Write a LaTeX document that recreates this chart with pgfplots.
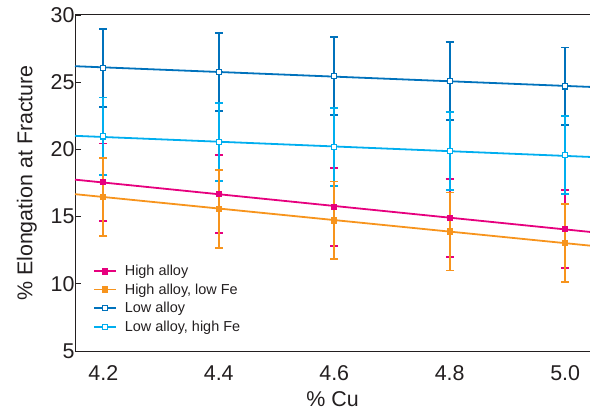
\documentclass[border=0pt]{standalone}
\usepackage{fontspec}
\setmainfont{Liberation Sans}
\usepackage{pgfplots}
\usepackage{pgfplotstable}
\pgfplotsset{compat=1.18}

\definecolor{hialloy}{RGB}{230,0,126}
\definecolor{hilowfe}{RGB}{247,148,29}
\definecolor{loalloy}{RGB}{0,114,188}
\definecolor{lohife}{RGB}{0,174,239}
\definecolor{txt}{RGB}{35,31,32}

% mean values, error = half the bar
\pgfplotstableread{
x   y     e
4.2 17.55 2.9
4.4 16.68 2.9
4.6 15.71 2.9
4.8 14.90 2.9
5.0 14.10 2.9
}\hialloytab
\pgfplotstableread{
x   y     e
4.2 16.46 2.9
4.4 15.59 2.9
4.6 14.72 2.9
4.8 13.90 2.9
5.0 13.04 2.9
}\hilowfetab
\pgfplotstableread{
x   y     e
4.2 26.08 2.9
4.4 25.74 2.9
4.6 25.46 2.9
4.8 25.09 2.9
5.0 24.69 2.9
}\loalloytab
\pgfplotstableread{
x   y     e
4.2 20.97 2.9
4.4 20.53 2.9
4.6 20.18 2.9
4.8 19.86 2.9
5.0 19.56 2.9
}\lohifetab

\pgfplotsset{
  ebar/.style={only marks, mark=none, forget plot,
    error bars/.cd, y dir=both, y explicit,
    error bar style={line width=1.7bp, color=#1},
    error mark options={rotate=90, mark size=4bp, line width=1.7bp, color=#1}},
  fitline/.style={color=#1, line width=1.8bp, forget plot},
  pts/.style 2 args={only marks, forget plot, color=#1, mark=square*,
    mark size=2.6bp, mark options={fill=#2, line width=1.1bp}},
}

\begin{document}
\begin{tikzpicture}
\begin{axis}[
  name=ax,
  scale only axis,
  width=515bp, height=336bp,
  xmin=4.151, xmax=5.043,
  ymin=5, ymax=30,
  axis x line=box, axis y line=left,
  axis line style={-, line width=1bp, color=txt},
  xtick={4.2,4.4,4.6,4.8,5.0},
  xticklabels={4.2,4.4,4.6,4.8,5.0},
  extra x ticks={4.25,4.35,4.45,4.55,4.65,4.75,4.85,4.95},
  extra x tick labels={},
  extra x tick style={major tick length=5bp, tick style={line width=0.8bp, color=txt}},
  ytick={5,10,15,20,25,30},
  tick align=inside,
  xtick style={draw=none},
  ytick style={line width=0.8bp, color=txt},
  major tick length=6bp,
  tick label style={font=\fontsize{21.5}{25}\selectfont, text=txt},
  /pgf/number format/assume math mode=true,
  xticklabel style={yshift=-11bp},
  yticklabel style={xshift=3bp},
  xlabel={\% Cu},
  ylabel={\% Elongation at Fracture},
  label style={font=\fontsize{21.5}{25}\selectfont, text=txt},
  xlabel style={yshift=-4bp},
  ylabel style={yshift=7bp},
  legend style={at={(0.035,0.262)}, anchor=north west, draw=none, fill=none,
    font=\fontsize{14.5}{17}\selectfont, text=txt,
    row sep=2.6bp, inner sep=0pt,
    /tikz/every odd column/.append style={column sep=6bp}},
  legend cell align=left,
  legend image code/.code={
    \draw[mark repeat=2, mark phase=2, #1] plot coordinates {(0bp,0bp) (11bp,0bp) (22bp,0bp)};},
  clip=false,
]
% legend samples
\addlegendimage{color=hialloy, line width=1.6bp, mark=square*, mark size=2.6bp, mark options={fill=hialloy}}
\addlegendentry{High alloy}
\addlegendimage{color=hilowfe, line width=1.6bp, mark=square*, mark size=2.6bp, mark options={fill=hilowfe}}
\addlegendentry{High alloy, low Fe}
\addlegendimage{color=loalloy, line width=1.6bp, mark=square*, mark size=2.6bp, mark options={fill=white, line width=1.1bp}}
\addlegendentry{Low alloy}
\addlegendimage{color=lohife, line width=1.6bp, mark=square*, mark size=2.6bp, mark options={fill=white, line width=1.1bp}}
\addlegendentry{Low alloy, high Fe}

% error bars
\addplot[ebar=hialloy] table[x=x, y=y, y error=e] {\hialloytab};
\addplot[ebar=loalloy] table[x=x, y=y, y error=e] {\loalloytab};
\addplot[ebar=lohife] table[x=x, y=y, y error=e] {\lohifetab};
\addplot[ebar=hilowfe] table[x=x, y=y, y error=e] {\hilowfetab};

% fitted lines
\addplot[fitline=hialloy] coordinates {(4.151,17.75) (5.043,13.86)};
\addplot[fitline=hilowfe] coordinates {(4.151,16.67) (5.043,12.84)};
\addplot[fitline=loalloy] coordinates {(4.151,26.19) (5.043,24.65)};
\addplot[fitline=lohife] coordinates {(4.151,21.01) (5.043,19.44)};

% markers
\addplot[pts={hialloy}{hialloy}] table[x=x, y=y] {\hialloytab};
\addplot[pts={hilowfe}{hilowfe}] table[x=x, y=y] {\hilowfetab};
\addplot[pts={loalloy}{white}] table[x=x, y=y] {\loalloytab};
\addplot[pts={lohife}{white}] table[x=x, y=y] {\lohifetab};
\end{axis}
\pgfresetboundingbox
\path ([shift={(-75bp,-61bp)}]ax.south west) rectangle ([shift={(0bp,15bp)}]ax.north east);
\end{tikzpicture}
\end{document}
